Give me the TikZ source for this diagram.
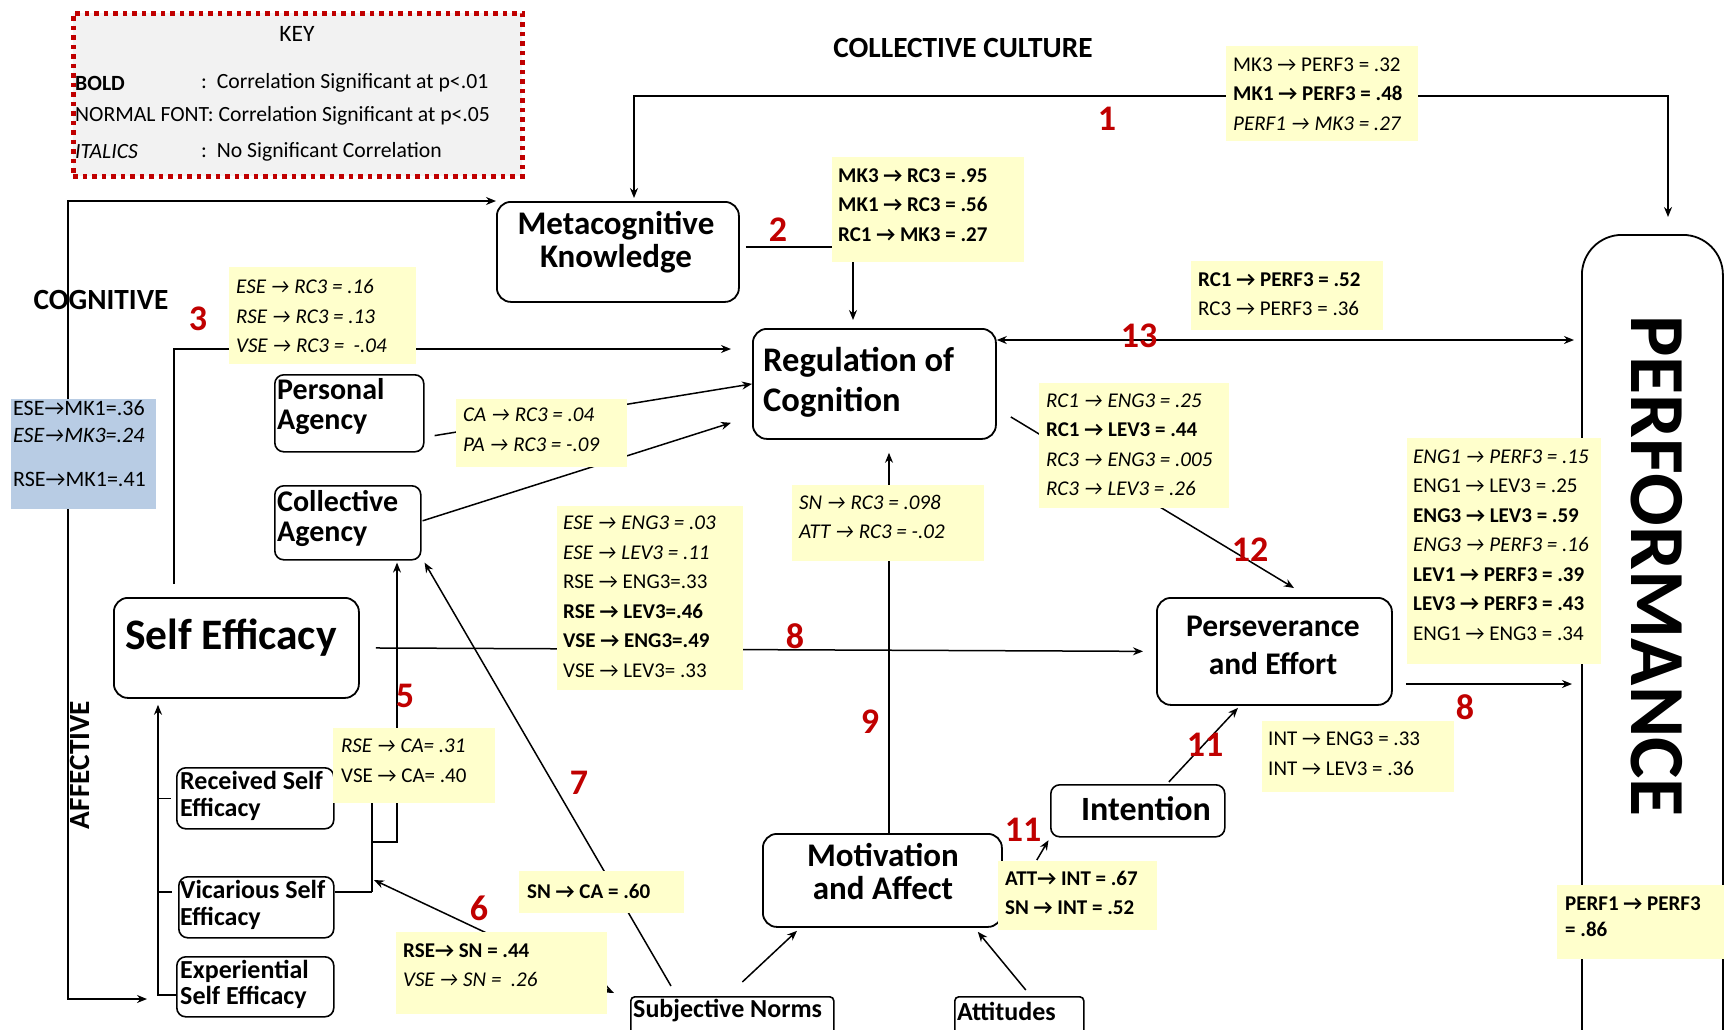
\documentclass[tikz,border=0pt]{standalone}
\usepackage{fontspec}
\setmainfont{Carlito}
\usetikzlibrary{arrows.meta,calc}
\definecolor{yel}{RGB}{255,255,204}
\definecolor{bluebox}{RGB}{184,204,228}
\definecolor{keyfill}{RGB}{242,242,242}
\definecolor{dred}{RGB}{192,0,0}
\newcommand\ra{→}
\newcommand\fs[2]{\fontsize{#1}{#2}\selectfont}
\begin{document}
\begin{tikzpicture}[x=1pt,y=-1pt,
  box/.style={draw, line width=1.8pt, rounded corners=14pt, fill=white, anchor=north west, inner sep=0pt},
  sbox/.style={box, rounded corners=9pt, line width=1.6pt},
  conn/.style={line width=1.5pt},
  arr/.style={conn, -{Stealth[length=10pt,width=8pt]}},
  darr/.style={conn, {Stealth[length=10pt,width=8pt]}-{Stealth[length=10pt,width=8pt]}},
  ybox/.style={fill=yel, anchor=north west, inner sep=0pt},
  yt/.style={anchor=west, align=left, inner sep=0pt, font=\fs{21}{29.5}},
  num/.style={text=dred, inner sep=0pt, font=\fs{36}{36}\bfseries},
  head/.style={inner sep=0pt, font=\fs{29.3}{30}\bfseries},
  kt/.style={inner sep=0pt, font=\fs{21.7}{24}},
  bt/.style={inner sep=0pt, align=#1},
  bt/.default=center
]
\useasboundingbox (0,0) rectangle (1724,1029);
\clip (0,0) rectangle (1724,1029);
\fill[white] (0,0) rectangle (1724,1029);

% ---------- key ----------
\node[fill=keyfill, draw=dred, line width=4.5pt, dash pattern=on 4.5pt off 5pt,
      anchor=north west, minimum width=449pt, minimum height=163pt, inner sep=0pt] (key) at (71,11) {};
\node[kt, font=\fs{23.5}{24}] (keyt) at (297,34) {KEY};
\node[kt, anchor=west] (k1a) at (75,83) {\textbf{BOLD}};
\node[kt, anchor=west] (k1b) at (201,83) {:\ \ Correlation Significant at p<.01};
\node[kt, anchor=west] (k2) at (75,116) {NORMAL FONT: Correlation Significant at p<.05};
\node[kt, anchor=west] (k3a) at (75,152) {\textit{ITALICS}};
\node[kt, anchor=west] (k3b) at (201,152) {:\ \ No Significant Correlation};

% ---------- headings ----------
\node[head] (hcc) at (963,48) {COLLECTIVE CULTURE};
\node[head] (hcog) at (101,300) {COGNITIVE};
\node[head, rotate=90] (haff) at (80,765) {AFFECTIVE};

% ---------- main boxes ----------
\node[box, minimum width=242pt, minimum height=100pt] (mk) at (496,201) {};
\node[box, minimum width=243pt, minimum height=110pt] (reg) at (752,328) {};
\node[sbox, minimum width=149pt, minimum height=77pt] (pa) at (274,374) {};
\node[sbox, minimum width=146pt, minimum height=74pt] (ca) at (274,485) {};
\node[box, minimum width=245pt, minimum height=100pt] (se) at (113,597) {};
\node[sbox, minimum width=157pt, minimum height=61pt] (rse) at (176,767) {};
\node[sbox, minimum width=155pt, minimum height=61pt] (vse) at (178,876) {};
\node[sbox, minimum width=157pt, minimum height=60pt] (ese) at (176,956) {};
\node[box, minimum width=235pt, minimum height=107pt] (pe) at (1156,597) {};
\node[sbox, minimum width=174pt, minimum height=52pt] (int) at (1050,784) {};
\node[box, minimum width=239pt, minimum height=93pt] (mot) at (762,833) {};
\node[sbox, rounded corners=4pt, minimum width=203pt, minimum height=50pt] (sn) at (630,996) {};
\node[sbox, rounded corners=4pt, minimum width=129pt, minimum height=50pt] (att) at (954,996) {};
\node[box, rounded corners=40pt, minimum width=141pt, minimum height=900pt] (perf) at (1581,234) {};

% ---------- box texts ----------
\node[bt, font=\fs{33}{33}\bfseries] (mkt) at (616,242) {Metacognitive\\Knowledge};
\node[bt=left, anchor=west, font=\fs{34.5}{40}\bfseries] (regt) at (763,382) {Regulation of\\Cognition};
\node[bt=left, anchor=west, font=\fs{30}{30}\bfseries] (pat) at (277,407) {Personal\\Agency};
\node[bt=left, anchor=west, font=\fs{30}{30}\bfseries] (cat) at (277,518) {Collective\\Agency};
\node[bt, font=\fs{43.5}{44}\bfseries] (set) at (231,638) {Self Efficacy};
\node[bt=left, anchor=west, font=\fs{26}{27}\bfseries] (rset) at (180,796) {Received Self\\Efficacy};
\node[bt=left, anchor=west, font=\fs{26}{27}\bfseries] (vset) at (180,905) {Vicarious Self\\Efficacy};
\node[bt=left, anchor=west, font=\fs{26}{26}\bfseries] (eset) at (180,984) {Experiential\\Self Efficacy};
\node[bt, font=\fs{31.5}{38}\bfseries] (pet) at (1273,645) {Perseverance\\and Effort};
\node[bt, font=\fs{33}{33}\bfseries] (mott) at (883,872) {Motivation\\and Affect};
\node[bt, font=\fs{34}{34}\bfseries] (intt) at (1146,809) {Intention};
\node[bt=left, anchor=west, font=\fs{26}{26}\bfseries] (snt) at (633,1011) {Subjective Norms};
\node[bt=left, anchor=west, font=\fs{26}{26}\bfseries] (attt) at (957,1011) {Attitudes};
\node[bt, rotate=-90, font=\fs{78}{78}\bfseries] (perft) at (1657,566) {PERFORMANCE};

% ---------- connectors ----------
\coordinate (c1a) at (634,96);
\coordinate (c1b) at (1668,96);
\draw[darr, shorten <=3pt, shorten >=17pt] (c1a |- mk.north) -- (c1a) -- (c1b) -- (c1b |- perf.north);

\coordinate (c2) at (853,247);
\draw[arr, shorten <=6pt, shorten >=8pt] (mk.east |- c2) -- (c2) -- (c2 |- reg.north);

\coordinate (c3) at (174,349);
\draw[arr, shorten <=13pt, shorten >=21pt] (c3 |- se.north) -- (c3) -- (c3 -| reg.west);

\draw[arr] ($(pa.south east)+(10,-17)$) -- (reg.west);
\draw[arr] ($(ca.east)+(1,-2)$) -- ($(reg.south west)+(-21,-17)$);

\coordinate (c5a) at (372,892);
\coordinate (c5b) at (372,842);
\coordinate (c5c) at (397,842);
\draw[conn] (rse.east) -| (c5a);
\draw[conn] (vse.east |- c5a) -- (c5a);
\draw[arr, shorten >=2pt] (c5b) -- (c5c) -- (c5c |- ca.south);

\coordinate (c7) at (158,995);
\draw[arr, shorten >=6pt] (ese.west |- c7) -- (c7) -- (c7 |- se.south);
\draw[conn] (c7 |- rse.west) -- ++(13,0);
\draw[conn] (c7 |- c5a) -- ++(14,0);

\coordinate (c8a) at (68,201);
\coordinate (c8b) at (68,999);
\draw[darr, shorten >=29pt] (mk.north west) -- (c8a) -- (c8b) -- (c8b -| ese.west);

\draw[arr, shorten <=16pt, shorten >=13pt] (se.east) -- (pe.west);

\coordinate (c10) at (1500,684);
\draw[arr, shorten <=13pt, shorten >=9pt] (pe.east |- c10) -- (c10 -| perf.west);

\coordinate (c13) at (1300,340);
\draw[darr, shorten >=7pt] (reg.east |- c13) -- (c13 -| perf.west);

\draw[arr] ($(reg.east)+(14,33)$) -- ($(pe.north west)+(138,-9)$);

\coordinate (c9) at (889,640);
\draw[arr, shorten >=13pt] (c9 |- mot.north) -- (c9 |- reg.south);

\draw[arr, shorten >=3pt] ($(mot.north east)+(34,27)$) -- (int.south west);
\draw[arr] ($(int.north)+(31,-2)$) -- ($(pe.south west)+(82,2)$);
\draw[arr] ($(sn.north)+(10,-14)$) -- ($(mot.south west)+(35,3)$);
\draw[arr] ($(att.north)+(6.5,-6)$) -- ($(mot.south east)+(-25,4)$);
\draw[arr] ($(sn.north west)+(41,-10)$) -- ($(ca.south east)+(3,2)$);
\draw[darr] ($(c5a)+(2,-12)$) -- ($(sn.north west)+(-16,-3)$);

% ---------- coloured boxes ----------
\node[fill=bluebox, anchor=north west, inner sep=0pt, minimum width=145pt, minimum height=110pt] (blue) at (11,399) {};
\node[yt, font=\fs{22}{27}] (bluet) at (13,444) {ESE\ra MK1=.36\\\textit{ESE\ra MK3=.24}\\[17pt]RSE\ra MK1=.41};

\node[ybox, minimum width=192pt, minimum height=95pt] (y1) at (1226,46) {};
\node[yt] (y1t) at (1233,94) {MK3 \ra{} PERF3 = .32\\\textbf{MK1 \ra{} PERF3 = .48}\\\textit{PERF1 \ra{} MK3 = .27}};

\node[ybox, minimum width=192pt, minimum height=105pt] (y2) at (832,157) {};
\node[yt] (y2t) at (838,205) {\textbf{MK3 \ra{} RC3 = .95}\\\textbf{MK1 \ra{} RC3 = .56}\\\textbf{RC1 \ra{} MK3 = .27}};

\node[ybox, minimum width=187pt, minimum height=97pt] (y3) at (229,267) {};
\node[yt] (y3t) at (236,316) {\textit{ESE \ra{} RC3 = .16}\\\textit{RSE \ra{} RC3 = .13}\\\textit{VSE \ra{} RC3 =\ \ -.04}};

\node[ybox, minimum width=171pt, minimum height=68pt] (y4) at (456,399) {};
\node[yt] (y4t) at (463,430) {\textit{CA \ra{} RC3 = .04}\\\textit{PA \ra{} RC3 = -.09}};

\node[ybox, minimum width=192pt, minimum height=69pt] (y13) at (1191,261) {};
\node[yt] (y13t) at (1198,294) {\textbf{RC1 \ra{} PERF3 = .52}\\RC3 \ra{} PERF3 = .36};

\node[ybox, minimum width=190pt, minimum height=125pt] (y12) at (1039,383) {};
\node[yt] (y12t) at (1046,445) {\textit{RC1 \ra{} ENG3 = .25}\\\textbf{RC1 \ra{} LEV3 = .44}\\\textit{RC3 \ra{} ENG3 = .005}\\\textit{RC3 \ra{} LEV3 = .26}};

\node[ybox, minimum width=192pt, minimum height=76pt] (y9) at (792,485) {};
\node[yt] (y9t) at (799,517) {\textit{SN \ra{} RC3 = .098}\\\textit{ATT \ra{} RC3 = -.02}};

\node[ybox, minimum width=186pt, minimum height=184pt] (y8) at (557,506) {};
\node[yt] (y8t) at (563,597) {\textit{ESE \ra{} ENG3 = .03}\\\textit{ESE \ra{} LEV3 = .11}\\RSE \ra{} ENG3=.33\\\textbf{RSE \ra{} LEV3=.46}\\\textbf{VSE \ra{} ENG3=.49}\\VSE \ra{} LEV3= .33};

\node[ybox, minimum width=194pt, minimum height=226pt] (yp) at (1407,438) {};
\node[yt] (ypt) at (1413,545) {\textit{ENG1 \ra{} PERF3 = .15}\\ENG1 \ra{} LEV3 = .25\\\textbf{ENG3 \ra{} LEV3 = .59}\\\textit{ENG3 \ra{} PERF3 = .16}\\\textbf{LEV1 \ra{} PERF3 = .39}\\\textbf{LEV3 \ra{} PERF3 = .43}\\ENG1 \ra{} ENG3 = .34};

\node[ybox, minimum width=162pt, minimum height=75pt] (y5) at (333,728) {};
\node[yt] (y5t) at (341,761) {\textit{RSE \ra{} CA= .31}\\VSE \ra{} CA= .40};

\node[ybox, minimum width=165pt, minimum height=42pt] (y7) at (519,871) {};
\node[yt] (y7t) at (527,891) {\textbf{SN \ra{} CA = .60}};

\node[ybox, minimum width=211pt, minimum height=82pt] (y6) at (396,932) {};
\node[yt] (y6t) at (403,965) {\textbf{RSE\ra{} SN = .44}\\\textit{VSE \ra{} SN =\ \ .26}};

\node[ybox, minimum width=159pt, minimum height=69pt] (y11) at (998,861) {};
\node[yt] (y11t) at (1005,893) {\textbf{ATT\ra{} INT = .67}\\\textbf{SN \ra{} INT = .52}};

\node[ybox, minimum width=192pt, minimum height=71pt] (yi) at (1262,721) {};
\node[yt] (yit) at (1268,754) {INT \ra{} ENG3 = .33\\INT \ra{} LEV3 = .36};

\node[ybox, minimum width=167pt, minimum height=74pt] (ypp) at (1557,885) {};
\node[yt, font=\fs{21}{26}] (yppt) at (1565,917) {\textbf{PERF1 \ra{} PERF3}\\\textbf{= .86}};

% ---------- numbers ----------
\node[num] (n1) at (1107,119) {1};
\node[num] (n2) at (778,230) {2};
\node[num] (n3) at (198,319) {3};
\node[num] (n5) at (405,696) {5};
\node[num] (n6) at (479,908) {6};
\node[num] (n7) at (579,783) {7};
\node[num] (n8a) at (795,636) {8};
\node[num] (n8b) at (1465,707) {8};
\node[num] (n9) at (870,722) {9};
\node[num] (n11a) at (1023,830) {11};
\node[num] (n11b) at (1205,745) {11};
\node[num] (n12) at (1250,550) {12};
\node[num] (n13) at (1139,336) {13};
\end{tikzpicture}
\end{document}
